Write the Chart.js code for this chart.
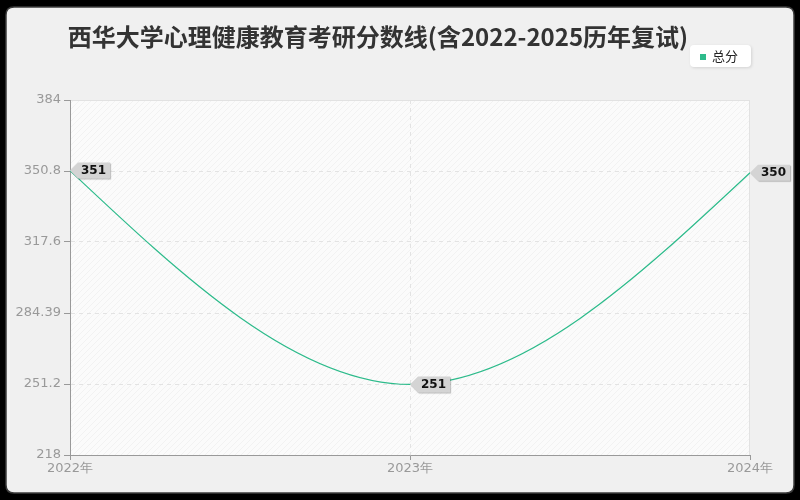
<!DOCTYPE html>
<html><head><meta charset="utf-8">
<script src="https://cdn.jsdelivr.net/npm/chart.js@4.4.1/dist/chart.umd.min.js"></script>
<style>html,body{margin:0;padding:0;background:#000;}#wrap{width:800px;height:500px;}</style>
</head><body><div id="wrap"><canvas id="c" width="800" height="500"></canvas></div>
<script>
const chartTitle = '西华大学心理健康教育考研分数线(含2022-2025历年复试)';
const categories = ['2022年', '2023年', '2024年'];
const seriesName = '总分';
const totalScores = [351, 251, 350];
const yTickValues = [218, 251.2, 284.39, 317.6, 350.8, 384];
const yMin = 218;
const yMax = 384;

const lineColor = '#2dbb8b';

function roundRect(ctx, x, y, w, h, r) {
  ctx.beginPath();
  ctx.moveTo(x + r, y);
  ctx.lineTo(x + w - r, y);
  ctx.quadraticCurveTo(x + w, y, x + w, y + r);
  ctx.lineTo(x + w, y + h - r);
  ctx.quadraticCurveTo(x + w, y + h, x + w - r, y + h);
  ctx.lineTo(x + r, y + h);
  ctx.quadraticCurveTo(x, y + h, x, y + h - r);
  ctx.lineTo(x, y + r);
  ctx.quadraticCurveTo(x, y, x + r, y);
  ctx.closePath();
}

const pc = document.createElement('canvas');
pc.width = 6; pc.height = 6;
const pctx = pc.getContext('2d');
pctx.strokeStyle = 'rgba(0,0,0,0.035)';
pctx.lineWidth = 1;
pctx.beginPath();
pctx.moveTo(-1, 7); pctx.lineTo(7, -1);
pctx.moveTo(-4, 4); pctx.lineTo(4, -4);
pctx.moveTo(2, 10); pctx.lineTo(10, 2);
pctx.stroke();

const backgroundPlugin = {
  id: 'bg',
  beforeDraw(chart) {
    const ctx = chart.ctx;
    const a = chart.chartArea;
    ctx.save();
    ctx.fillStyle = '#000';
    ctx.fillRect(0, 0, chart.width, chart.height);
    roundRect(ctx, 6, 7, 788, 486, 8);
    ctx.fillStyle = '#f0f0f0';
    ctx.fill();
    ctx.lineWidth = 1.5;
    ctx.strokeStyle = '#3c3c3c';
    ctx.stroke();
    ctx.fillStyle = '#fbfbfb';
    ctx.fillRect(a.left, a.top, a.right - a.left, a.bottom - a.top);
    ctx.fillStyle = ctx.createPattern(pc, 'repeat');
    ctx.fillRect(a.left, a.top, a.right - a.left, a.bottom - a.top);
    ctx.strokeStyle = '#e2e2e2';
    ctx.lineWidth = 1;
    ctx.beginPath();
    ctx.moveTo(a.left, a.top + 0.5); ctx.lineTo(a.right, a.top + 0.5);
    ctx.moveTo(a.right - 0.5, a.top); ctx.lineTo(a.right - 0.5, a.bottom);
    ctx.stroke();
    // title
    ctx.font = 'bold 24px "Noto Sans CJK SC"';
    ctx.fillStyle = '#333';
    ctx.textAlign = 'center';
    ctx.textBaseline = 'middle';
    ctx.fillText(chartTitle, 378, 37);
    // legend
    ctx.save();
    ctx.shadowColor = 'rgba(0,0,0,0.12)';
    ctx.shadowBlur = 3;
    ctx.shadowOffsetX = 1;
    ctx.shadowOffsetY = 1;
    roundRect(ctx, 690, 45, 61, 22, 4);
    ctx.fillStyle = '#fff';
    ctx.fill();
    ctx.restore();
    ctx.fillStyle = lineColor;
    ctx.fillRect(700, 54, 6, 6);
    ctx.font = '13px "Noto Sans CJK SC"';
    ctx.fillStyle = '#222';
    ctx.textAlign = 'left';
    ctx.fillText(seriesName, 712, 56.5);
    ctx.restore();
  }
};

const splinePlugin = {
  id: 'naturalSpline',
  beforeDatasetsDraw(chart) {
    chart.data.datasets.forEach((ds, di) => {
      const meta = chart.getDatasetMeta(di);
      if (!meta.dataset) return;
      meta.dataset.updateControlPoints(chart.chartArea, 'x');
      const pts = meta.data;
      const n = pts.length;
      if (n < 3) return;
      const xs = pts.map(p => p.x), ys = pts.map(p => p.y);
      const h = [];
      for (let i = 0; i < n - 1; i++) h[i] = xs[i + 1] - xs[i];
      const M = new Array(n).fill(0);
      const a = [], b = [], c = [], d = [];
      for (let i = 1; i < n - 1; i++) {
        a[i] = h[i - 1]; b[i] = 2 * (h[i - 1] + h[i]); c[i] = h[i];
        d[i] = 6 * ((ys[i + 1] - ys[i]) / h[i] - (ys[i] - ys[i - 1]) / h[i - 1]);
      }
      for (let i = 2; i < n - 1; i++) {
        const w = a[i] / b[i - 1];
        b[i] -= w * c[i - 1];
        d[i] -= w * d[i - 1];
      }
      for (let i = n - 2; i >= 1; i--) {
        M[i] = (d[i] - c[i] * M[i + 1]) / b[i];
      }
      for (let i = 0; i < n - 1; i++) {
        const s = (ys[i + 1] - ys[i]) / h[i];
        const mL = s - h[i] * (2 * M[i] + M[i + 1]) / 6;
        const mR = s + h[i] * (M[i] + 2 * M[i + 1]) / 6;
        pts[i].cp2x = xs[i] + h[i] / 3;
        pts[i].cp2y = ys[i] + mL * h[i] / 3;
        pts[i + 1].cp1x = xs[i + 1] - h[i] / 3;
        pts[i + 1].cp1y = ys[i + 1] - mR * h[i] / 3;
      }
    });
  }
};

const tagPlugin = {
  id: 'tags',
  afterDatasetsDraw(chart) {
    const ctx = chart.ctx;
    chart.data.datasets.forEach((ds, di) => {
      const meta = chart.getDatasetMeta(di);
      meta.data.forEach((p, i) => {
        const txt = String(ds.data[i]);
        ctx.save();
        ctx.font = 'bold 12px "DejaVu Sans"';
        const tw = ctx.measureText(txt).width;
        const x = p.x, y = p.y, tip = 8, hh = 8, w = tw + 7;
        ctx.shadowColor = 'rgba(0,0,0,0.25)';
        ctx.shadowBlur = 1;
        ctx.shadowOffsetX = 1;
        ctx.shadowOffsetY = 1;
        ctx.beginPath();
        ctx.moveTo(x, y);
        ctx.lineTo(x + tip, y - hh);
        ctx.lineTo(x + tip + w, y - hh);
        ctx.lineTo(x + tip + w, y + hh);
        ctx.lineTo(x + tip, y + hh);
        ctx.closePath();
        ctx.fillStyle = '#d4d4d4';
        ctx.fill();
        ctx.restore();
        ctx.save();
        ctx.font = 'bold 12px "DejaVu Sans"';
        ctx.fillStyle = '#111';
        ctx.textAlign = 'left';
        ctx.textBaseline = 'middle';
        ctx.fillText(txt, x + tip + 3, y + 0.5);
        ctx.restore();
      });
    });
  }
};

new Chart(document.getElementById('c'), {
  type: 'line',
  data: {
    labels: categories,
    datasets: [{
      label: seriesName,
      data: totalScores,
      borderColor: lineColor,
      backgroundColor: lineColor,
      borderWidth: 1.2,
      pointRadius: 0,
      pointHoverRadius: 0,
      tension: 0.4,
      fill: false
    }]
  },
  options: {
    responsive: false,
    animation: false,
    devicePixelRatio: 1,
    layout: { padding: { left: 0, right: 50, top: 100, bottom: 0 } },
    plugins: { legend: { display: false }, title: { display: false }, tooltip: { enabled: false } },
    scales: {
      x: {
        type: 'category',
        offset: false,
        grid: {
          color: (c) => (c.index === 0 || c.index === categories.length - 1) ? 'rgba(0,0,0,0)' : '#e3e3e3',
          tickColor: '#999',
          tickLength: 5,
          lineWidth: 1
        },
        border: { color: '#999', dash: [4, 4], width: 1 },
        ticks: { color: '#999', font: { family: 'DejaVu Sans', size: 13 }, padding: 1, maxRotation: 0, autoSkip: false },
        afterFit: (s) => { s.height = 45; }
      },
      y: {
        min: yMin,
        max: yMax,
        afterBuildTicks: (s) => { s.ticks = yTickValues.map(v => ({ value: v })); },
        grid: {
          color: (c) => (c.index === 0 || c.index === yTickValues.length - 1) ? 'rgba(0,0,0,0)' : '#e3e3e3',
          tickColor: '#999',
          tickLength: 6,
          lineWidth: 1
        },
        border: { color: '#999', dash: [4, 4], width: 1 },
        ticks: {
          color: '#999',
          font: { family: 'DejaVu Sans', size: 13 },
          padding: 3,
          callback: (v) => String(v)
        },
        afterFit: (s) => { s.width = 70; }
      }
    }
  },
  plugins: [backgroundPlugin, splinePlugin, tagPlugin]
});
</script>
</body></html>
